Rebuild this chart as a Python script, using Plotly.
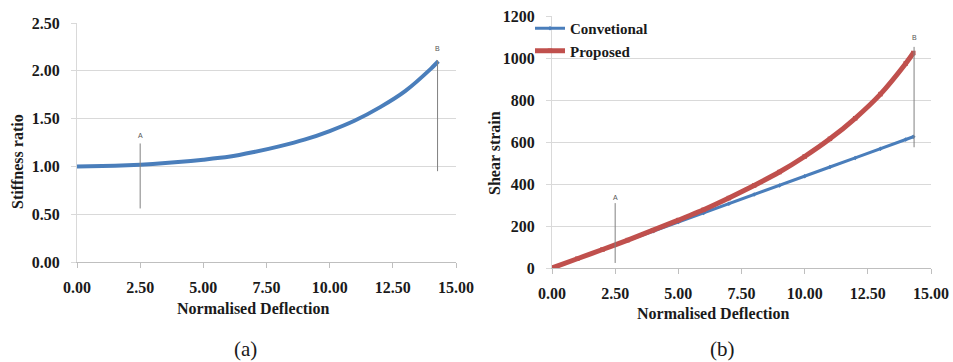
import plotly.graph_objects as go

# ---------------- data ----------------
deflection = [0, 1, 2, 3, 4, 5, 6, 7, 8, 9, 10, 11, 12, 13, 14, 14.3]
stiffness_ratio = [1.00, 1.003, 1.012, 1.025, 1.045, 1.07, 1.10, 1.15, 1.21, 1.28,
                   1.37, 1.48, 1.62, 1.79, 2.02, 2.10]
conventional = [0, 44, 87, 131, 175, 219, 262, 306, 350, 393, 437, 481, 524, 568, 612, 625]
proposed = [0, 44, 88, 133, 180, 228, 277, 333, 393, 457, 531, 615, 713, 828, 974, 1024]

# marker lines A / B : x, y-start, y-end, label y
a_marks_x = [2.5, 14.27]
a_marks_y0 = [0.56, 0.95]
a_marks_y1 = [1.24, 2.11]
a_marks_label_y = [1.32, 2.23]
b_marks_x = [2.5, 14.33]
b_marks_y0 = [24, 575]
b_marks_y1 = [309, 1053]
b_marks_label_y = [335, 1097]
mark_labels = ["A", "B"]

W, H = 953, 362
FONT = "Liberation Serif"
BLUE = "#4a7ebb"
RED = "#c0504d"
GRID = "#d9d9d9"
INK = "#1a1a1a"

fig = go.Figure()

# panel (a)
fig.add_trace(go.Scatter(x=deflection, y=stiffness_ratio, mode="lines",
                         line=dict(color=BLUE, width=4, shape="spline", smoothing=0.6),
                         showlegend=False, xaxis="x", yaxis="y"))
# panel (b)
fig.add_trace(go.Scatter(x=deflection, y=conventional, mode="lines+markers", name="Convetional",
                         line=dict(color=BLUE, width=3), marker=dict(symbol="diamond", size=3.5, color=BLUE),
                         xaxis="x2", yaxis="y2"))
fig.add_trace(go.Scatter(x=deflection, y=proposed, mode="lines+markers", name="Proposed",
                         line=dict(color=RED, width=5, shape="spline", smoothing=0.6),
                         marker=dict(symbol="square", size=4.5, color=RED),
                         xaxis="x2", yaxis="y2"))

shapes = []
annotations = []
for i, lab in enumerate(mark_labels):
    shapes.append(dict(type="line", xref="x", yref="y", x0=a_marks_x[i], x1=a_marks_x[i],
                       y0=a_marks_y0[i], y1=a_marks_y1[i], line=dict(color="#808080", width=1)))
    annotations.append(dict(xref="x", yref="y", x=a_marks_x[i], y=a_marks_label_y[i], text=lab,
                            showarrow=False, xanchor="center", yanchor="middle",
                            font=dict(family="Liberation Sans", size=7, color="#555")))
    shapes.append(dict(type="line", xref="x2", yref="y2", x0=b_marks_x[i], x1=b_marks_x[i],
                       y0=b_marks_y0[i], y1=b_marks_y1[i], line=dict(color="#808080", width=1)))
    annotations.append(dict(xref="x2", yref="y2", x=b_marks_x[i], y=b_marks_label_y[i], text=lab,
                            showarrow=False, xanchor="center", yanchor="middle",
                            font=dict(family="Liberation Sans", size=7, color="#555")))

def px_x(p):
    return p / W

def px_y(p):
    return 1 - p / H

title_font = dict(family=FONT, size=16, color=INK, weight="bold")

def note(x, y, text, font, angle=0):
    return dict(xref="paper", yref="paper", x=px_x(x), y=px_y(y), text=text, showarrow=False,
                xanchor="center", yanchor="middle", textangle=angle, font=font)

annotations += [
    note(253, 308, "Normalised Deflection", title_font),
    note(713, 313, "Normalised Deflection", title_font),
    note(17, 162, "Stiffness ratio", title_font, -90),
    note(494, 153, "Shear strain", title_font, -90),
    note(245, 349, "(a)", dict(family=FONT, size=21, color=INK)),
    note(722, 349, "(b)", dict(family=FONT, size=21, color=INK)),
]

tick_font = dict(family=FONT, size=16, color=INK, weight="bold")

def xaxis(domain, anchor):
    return dict(domain=domain, anchor=anchor, range=[0, 15], dtick=2.5, tick0=0, tickformat=".2f",
                showgrid=False, zeroline=False, showline=True, linecolor="#bfbfbf", linewidth=1,
                ticks="outside", ticklen=5, tickcolor="#bfbfbf", tickfont=tick_font,
                ticklabelstandoff=6, automargin=False, fixedrange=True)

def yaxis(domain, anchor, rng, dt, fmt):
    return dict(domain=domain, anchor=anchor, range=rng, dtick=dt, tick0=0, tickformat=fmt,
                showgrid=True, gridcolor=GRID, gridwidth=1, zeroline=False, showline=True,
                linecolor=GRID, linewidth=1, ticks="outside", ticklen=5, tickcolor=GRID,
                tickfont=tick_font, ticklabelstandoff=8, automargin=False, fixedrange=True)

fig.update_layout(
    width=W, height=H,
    margin=dict(l=0, r=0, t=0, b=0, autoexpand=False),
    paper_bgcolor="white", plot_bgcolor="white",
    xaxis=xaxis([px_x(77), px_x(456)], "y"),
    yaxis=yaxis([px_y(262), px_y(23)], "x", [0, 2.5], 0.5, ".2f"),
    xaxis2=xaxis([px_x(552), px_x(931)], "y2"),
    yaxis2=yaxis([px_y(268), px_y(16)], "x2", [0, 1200], 200, "d"),
    shapes=shapes,
    annotations=annotations,
    legend=dict(x=px_x(530), y=px_y(12), xanchor="left", yanchor="top",
                bgcolor="rgba(0,0,0,0)", font=dict(family=FONT, size=15, color=INK, weight="bold"),
                itemwidth=30, tracegroupgap=0, borderwidth=0),
    showlegend=True,
)

fig.write_html("out.html", config={"displayModeBar": False},
               post_script="document.body.style.margin='0';document.body.style.overflow='hidden';")
